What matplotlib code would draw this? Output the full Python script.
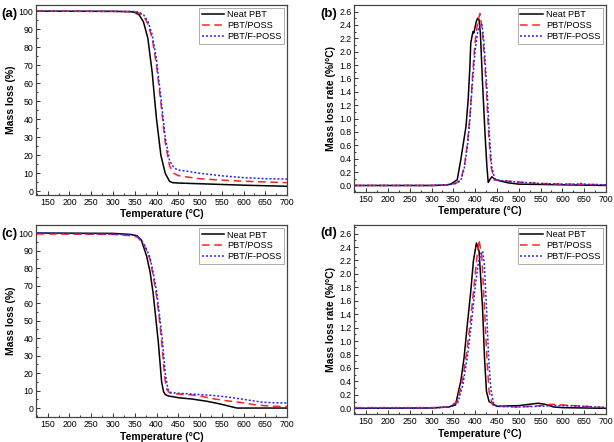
import matplotlib
matplotlib.use("Agg")
import matplotlib.pyplot as plt
from matplotlib.ticker import MultipleLocator

plt.rcParams['font.family'] = ['Liberation Sans', 'DejaVu Sans']

# (a) TGA
a_neat_T = [125, 300, 340, 350, 360, 370, 380, 390, 396, 400, 410, 420, 430, 437, 450, 500, 600, 700]
a_neat_v = [100, 99.9, 99.7, 99.3, 98, 94, 85, 66, 50, 40, 20, 10, 5.5, 4.8, 4.6, 4.2, 3.4, 2.8]
a_poss_T = [125, 300, 350, 360, 370, 380, 390, 400, 410, 420, 430, 440, 450, 475, 500, 550, 600, 650, 700]
a_poss_v = [100, 99.9, 99.7, 99, 97.5, 93, 85, 70, 49, 27, 14, 10, 8.7, 7.8, 7, 6.2, 5.6, 5.2, 4.8]
a_fposs_T = [125, 300, 350, 360, 370, 380, 390, 400, 410, 420, 430, 440, 450, 475, 500, 550, 600, 650, 700]
a_fposs_v = [100, 99.9, 99.8, 99.3, 98, 94.5, 87, 73, 52, 30, 17, 13, 11.8, 11, 10, 8.6, 7.6, 7, 6.8]

# (b) DTG
b_neat_T = [125, 300, 330, 344, 359, 367, 373, 379, 384, 388, 390, 392, 395, 397, 402.6, 405.7, 408.8,
            412, 417, 422.6, 427, 430, 434, 438, 444, 450, 475, 500, 550, 600, 700]
b_neat_v = [0.0, 0.0, 0.005, 0.02, 0.085, 0.38, 0.63, 0.88, 1.28, 1.78, 2.13, 2.2, 2.3, 2.28, 2.45, 2.5, 2.48,
            2.28, 1.53, 0.78, 0.28, 0.045, 0.09, 0.13, 0.1, 0.08, 0.04, 0.02, 0.015, 0.01, 0.0]
b_poss_T = [125, 300, 340, 355, 367, 375, 382.5, 388, 394, 399.6, 405.6, 411, 417, 425, 431, 436.5, 444,
            450, 500, 550, 600, 700]
b_poss_v = [0.0, 0.0, 0.01, 0.03, 0.085, 0.28, 0.63, 1.03, 1.63, 2.13, 2.43, 2.57, 2.28, 1.53, 0.78, 0.28, 0.08,
            0.08, 0.05, 0.03, 0.02, 0.01]
b_fposs_T = [125, 300, 340, 355, 367, 375, 382.5, 388, 394, 400, 406, 412, 416, 420, 427, 433, 438, 445,
             450, 480, 500, 550, 600, 635, 640, 645, 700]
b_fposs_v = [0.0, 0.0, 0.01, 0.03, 0.07, 0.25, 0.6, 0.98, 1.55, 2.02, 2.3, 2.42, 2.4, 2.15, 1.45, 0.72, 0.28, 0.1,
             0.08, 0.06, 0.05, 0.03, 0.02, 0.02, 0.04, 0.02, 0.01]

# (c) TGA
c_neat_T = [125, 300, 340, 355, 365, 377, 385, 392, 398, 404, 411.7, 416, 420, 427, 453, 480, 515, 545, 576, 585, 700]
c_neat_v = [100, 99.8, 99.2, 98.5, 96, 87, 78, 66, 52, 38, 15, 9.5, 7.8, 7, 5.9, 5.3, 4, 2.5, 0.6, 0.1, 0.1]
c_poss_T = [125, 300, 340, 355, 370, 385, 392, 400, 406, 411.7, 419, 424, 430, 446, 480, 500, 530, 560, 591, 620,
            645, 670, 700]
c_poss_v = [99.5, 99.2, 98.5, 97.8, 94, 85, 76, 64, 52, 38, 17, 10.5, 8.8, 8.2, 7.6, 7, 5.4, 4.3, 3.4, 2.2,
            1.5, 1.1, 1]
c_fposs_T = [125, 300, 340, 355, 365, 375, 385, 392, 400, 406, 413, 420, 426, 432, 446, 480, 500, 530, 560, 591,
             620, 645, 670, 700]
c_fposs_v = [100, 99.4, 99, 98.3, 96, 92, 86, 78, 67, 55, 40, 20, 11, 9, 8.6, 8.1, 7.8, 7.3, 6.5, 5.4,
             4.3, 3.4, 3.1, 3]

# (d) DTG
d_neat_T = [125, 300, 340, 355, 367, 374.6, 382, 390, 396, 403, 409, 417, 421.5, 426, 432, 450, 500, 525, 544,
            560, 580, 600, 700]
d_neat_v = [0.0, 0.005, 0.02, 0.05, 0.4, 0.75, 1.24, 1.74, 2.19, 2.46, 2.34, 1.49, 0.75, 0.25, 0.1, 0.03, 0.04,
            0.06, 0.075, 0.06, 0.02, 0.01, 0.0]
d_poss_T = [125, 300, 340, 359, 370.7, 381, 390, 397.7, 404, 409, 415.5, 421.5, 427, 432, 440, 450, 500, 550,
            575, 600, 650, 700]
d_poss_v = [0.01, 0.01, 0.02, 0.1, 0.4, 0.85, 1.34, 1.84, 2.24, 2.51, 2.24, 1.49, 0.75, 0.25, 0.05, 0.03, 0.02,
            0.04, 0.06, 0.05, 0.03, 0.01]
d_fposs_T = [125, 300, 340, 360, 372, 383, 392, 400, 407, 413, 417, 421, 426, 431, 436, 442, 450, 500, 550,
             575, 600, 650, 700]
d_fposs_v = [0.0, 0.005, 0.02, 0.08, 0.35, 0.8, 1.3, 1.8, 2.15, 2.3, 2.34, 2.15, 1.5, 0.75, 0.28, 0.08, 0.03,
             0.02, 0.03, 0.04, 0.04, 0.03, 0.01]

labels = ['Neat PBT', 'PBT/POSS', 'PBT/F-POSS']
panels = [
    ('(a)', [0.0586, 0.559, 0.409, 0.430], (a_neat_T, a_neat_v), (a_poss_T, a_poss_v), (a_fposs_T, a_fposs_v),
     'Mass loss (%)', (-2, 103.5), 10, 5, '%d'),
    ('(b)', [0.577, 0.566, 0.410, 0.423], (b_neat_T, b_neat_v), (b_poss_T, b_poss_v), (b_fposs_T, b_fposs_v),
     'Mass loss rate (%/°C)', (-0.095, 2.7), 0.2, 0.1, '%.1f'),
    ('(c)', [0.0586, 0.0566, 0.409, 0.434], (c_neat_T, c_neat_v), (c_poss_T, c_poss_v), (c_fposs_T, c_fposs_v),
     'Mass loss (%)', (-5, 104.5), 10, 5, '%d'),
    ('(d)', [0.577, 0.0633, 0.410, 0.428], (d_neat_T, d_neat_v), (d_poss_T, d_poss_v), (d_fposs_T, d_fposs_v),
     'Mass loss rate (%/°C)', (-0.085, 2.73), 0.2, 0.1, '%.1f'),
]

fig = plt.figure(figsize=(6.14, 4.42), dpi=100)
for tag, pos, neat, poss, fposs, ylab, ylim, ymaj, ymin, fmt in panels:
    ax = fig.add_axes(pos)
    ax.plot(neat[0], neat[1], color='black', lw=1.1, label=labels[0])
    ax.plot(poss[0], poss[1], color='#ff2222', lw=1.1, ls=(0, (5, 3)), label=labels[1])
    ax.plot(fposs[0], fposs[1], color='#2222ff', lw=1.1, ls=(0, (1.3, 1.3)), label=labels[2])
    ax.set_xlim(123, 700)
    ax.set_ylim(*ylim)
    ax.xaxis.set_major_locator(MultipleLocator(50))
    ax.xaxis.set_minor_locator(MultipleLocator(25))
    ax.yaxis.set_major_locator(MultipleLocator(ymaj))
    ax.yaxis.set_minor_locator(MultipleLocator(ymin))
    ax.yaxis.set_major_formatter(plt.FormatStrFormatter(fmt))
    ax.set_xticks([t for t in range(150, 701, 50)])
    ax.tick_params(which='both', direction='in', labelsize=6.3, width=0.7, color='#333333', pad=2)
    ax.tick_params(which='major', length=3)
    ax.tick_params(which='minor', length=1.6)
    for s in ax.spines.values():
        s.set_linewidth(0.9)
        s.set_color('#444444')
    ax.set_xlabel('Temperature (°C)', fontsize=7.5, fontweight='bold', labelpad=2)
    ax.set_ylabel(ylab, fontsize=7.5, fontweight='bold', labelpad=2)
    leg = ax.legend(loc='upper right', fontsize=6.6, handlelength=2.5, borderaxespad=0.3,
                    borderpad=0.3, labelspacing=0.2, handletextpad=0.3, fancybox=False)
    leg.get_frame().set_edgecolor('#888888')
    leg.get_frame().set_linewidth(0.6)
    fig.text(pos[0] - 0.056, pos[1] + pos[3] - 0.006, tag, fontsize=9.5, fontweight='bold', va='top', ha='left')

fig.savefig('out.png', dpi=100, facecolor='white')
